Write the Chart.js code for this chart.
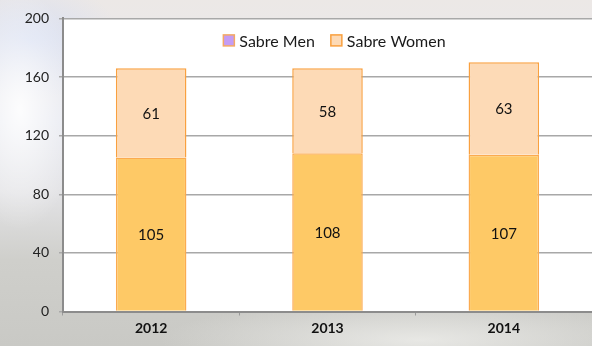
<!DOCTYPE html>
<html>
<head>
<meta charset="utf-8">
<script src="https://cdn.jsdelivr.net/npm/chart.js@4.4.1/dist/chart.umd.min.js"></script>
<style>
html, body { margin: 0; padding: 0; }
body {
    width: 592px; height: 346px; overflow: hidden;
    background:
        radial-gradient(ellipse 60px 120px at 20px 110px, rgba(255,255,255,0.9), rgba(255,255,255,0)),
        radial-gradient(ellipse 90px 60px at 30px 40px, rgba(214,222,243,0.9), rgba(214,222,243,0)),
        radial-gradient(ellipse 260px 40px at 420px 340px, rgba(235,235,232,0.9), rgba(235,235,232,0)),
        linear-gradient(to bottom, #ece8e6 0px, #e6e8f0 120px, #e3e3e6 190px, #cfcfcb 260px, #c9c9c5 346px);
}
#wrap { position: absolute; left: 0; top: 0; width: 592px; height: 346px; }
</style>
</head>
<body>
<div id="wrap"><canvas id="sabre" width="592" height="346"></canvas></div>
<script>
//データ
var years = ["2012", "2013", "2014"];
var sabreMen = [105, 108, 107];
var sabreWomen = [61, 58, 63];
var yTicks = [0, 40, 80, 120, 160, 200];

var fontName = "Lato, 'Open Sans', sans-serif";

//凡例の色
var legendFill = ["#c49cf4", "#fddab6"];
var legendStroke = ["#f4a864", "#f9a03f"];

//グラフエリアの背景を白で塗る
var plotBg = {
    id: 'plotBg',
    beforeDraw: function(chart) {
        var a = chart.chartArea;
        var ctx = chart.ctx;
        ctx.save();
        ctx.fillStyle = "#ffffff";
        ctx.fillRect(a.left, a.top, a.right - a.left, a.bottom - a.top);
        ctx.restore();
    }
};

//棒の中央に数値を表示
var barValues = {
    id: 'barValues',
    afterDatasetsDraw: function(chart) {
        var ctx = chart.ctx;
        ctx.save();
        ctx.font = "15px " + fontName;
        ctx.fillStyle = "#111111";
        ctx.textAlign = "center";
        ctx.textBaseline = "middle";
        chart.data.datasets.forEach(function(ds, i) {
            chart.getDatasetMeta(i).data.forEach(function(bar, j) {
                var p = bar.getProps(['x', 'y', 'base'], true);
                ctx.fillText(ds.data[j], p.x, (p.y + p.base) / 2 + 1);
            });
        });
        ctx.restore();
    }
};

//グラフエリア内の上部に横並びの凡例
var innerLegend = {
    id: 'innerLegend',
    afterDraw: function(chart) {
        var ctx = chart.ctx;
        var a = chart.chartArea;
        var box = 11, gap = 5, space = 16;
        ctx.save();
        ctx.font = "16px " + fontName;
        var names = chart.data.datasets.map(function(ds) { return ds.label; });
        var total = 0;
        names.forEach(function(n, i) {
            total += box + gap + ctx.measureText(n).width + (i > 0 ? space : 0);
        });
        var x = (a.left + a.right) / 2 - total / 2 + 7;
        var y = a.top + 22;
        ctx.textBaseline = "middle";
        ctx.textAlign = "left";
        names.forEach(function(n, i) {
            ctx.fillStyle = legendFill[i];
            ctx.fillRect(x, y - box / 2, box, box);
            ctx.strokeStyle = legendStroke[i];
            ctx.lineWidth = 1.5;
            ctx.strokeRect(x, y - box / 2, box, box);
            x += box + gap;
            ctx.fillStyle = "#1a1a1a";
            ctx.fillText(n, x, y + 1);
            x += ctx.measureText(n).width + space;
        });
        ctx.restore();
    }
};

var ctx = document.getElementById("sabre").getContext('2d');
var sabreChart = new Chart(ctx, {
    type: 'bar',
    data: {
        labels: years,
        datasets: [{
            label: "Sabre Men",
            data: sabreMen,
            backgroundColor: "#fec966",
            borderColor: "#fbab50",
            borderWidth: 1.5,
            categoryPercentage: 0.8,
            barPercentage: 0.5
        }, {
            label: "Sabre Women",
            data: sabreWomen,
            backgroundColor: "#fddab6",
            borderColor: "#f9a03f",
            borderWidth: 1.5,
            categoryPercentage: 0.8,
            barPercentage: 0.5
        }]
    },
    options: {
        responsive: false,
        animation: false,
        layout: { padding: { top: 15, right: 0, left: 0, bottom: 0 } },
        plugins: {
            tooltip: { enabled: false },
            legend: { display: false }
        },
        scales: {
            x: {
                stacked: true,
                afterFit: function(s) { s.height = 34.5; },
                grid: {
                    offset: true,
                    drawOnChartArea: false,
                    tickLength: 4,
                    color: "#9a9a9a"
                },
                border: { color: "#8c8c8c", width: 2 },
                ticks: {
                    color: "#111111",
                    padding: 5,
                    font: { family: fontName, size: 14, weight: 'bold' }
                }
            },
            y: {
                stacked: true,
                min: 0,
                max: 200,
                afterFit: function(s) { s.width = 63; },
                afterBuildTicks: function(s) {
                    s.ticks = yTicks.map(function(v) { return { value: v }; });
                },
                grid: {
                    color: "#a8a8a8",
                    lineWidth: 1.5,
                    tickLength: 4
                },
                border: { color: "#8c8c8c", width: 2 },
                ticks: {
                    color: "#222222",
                    padding: 10,
                    font: { family: fontName, size: 14 }
                }
            }
        }
    },
    plugins: [plotBg, barValues, innerLegend]
});
</script>
</body>
</html>
